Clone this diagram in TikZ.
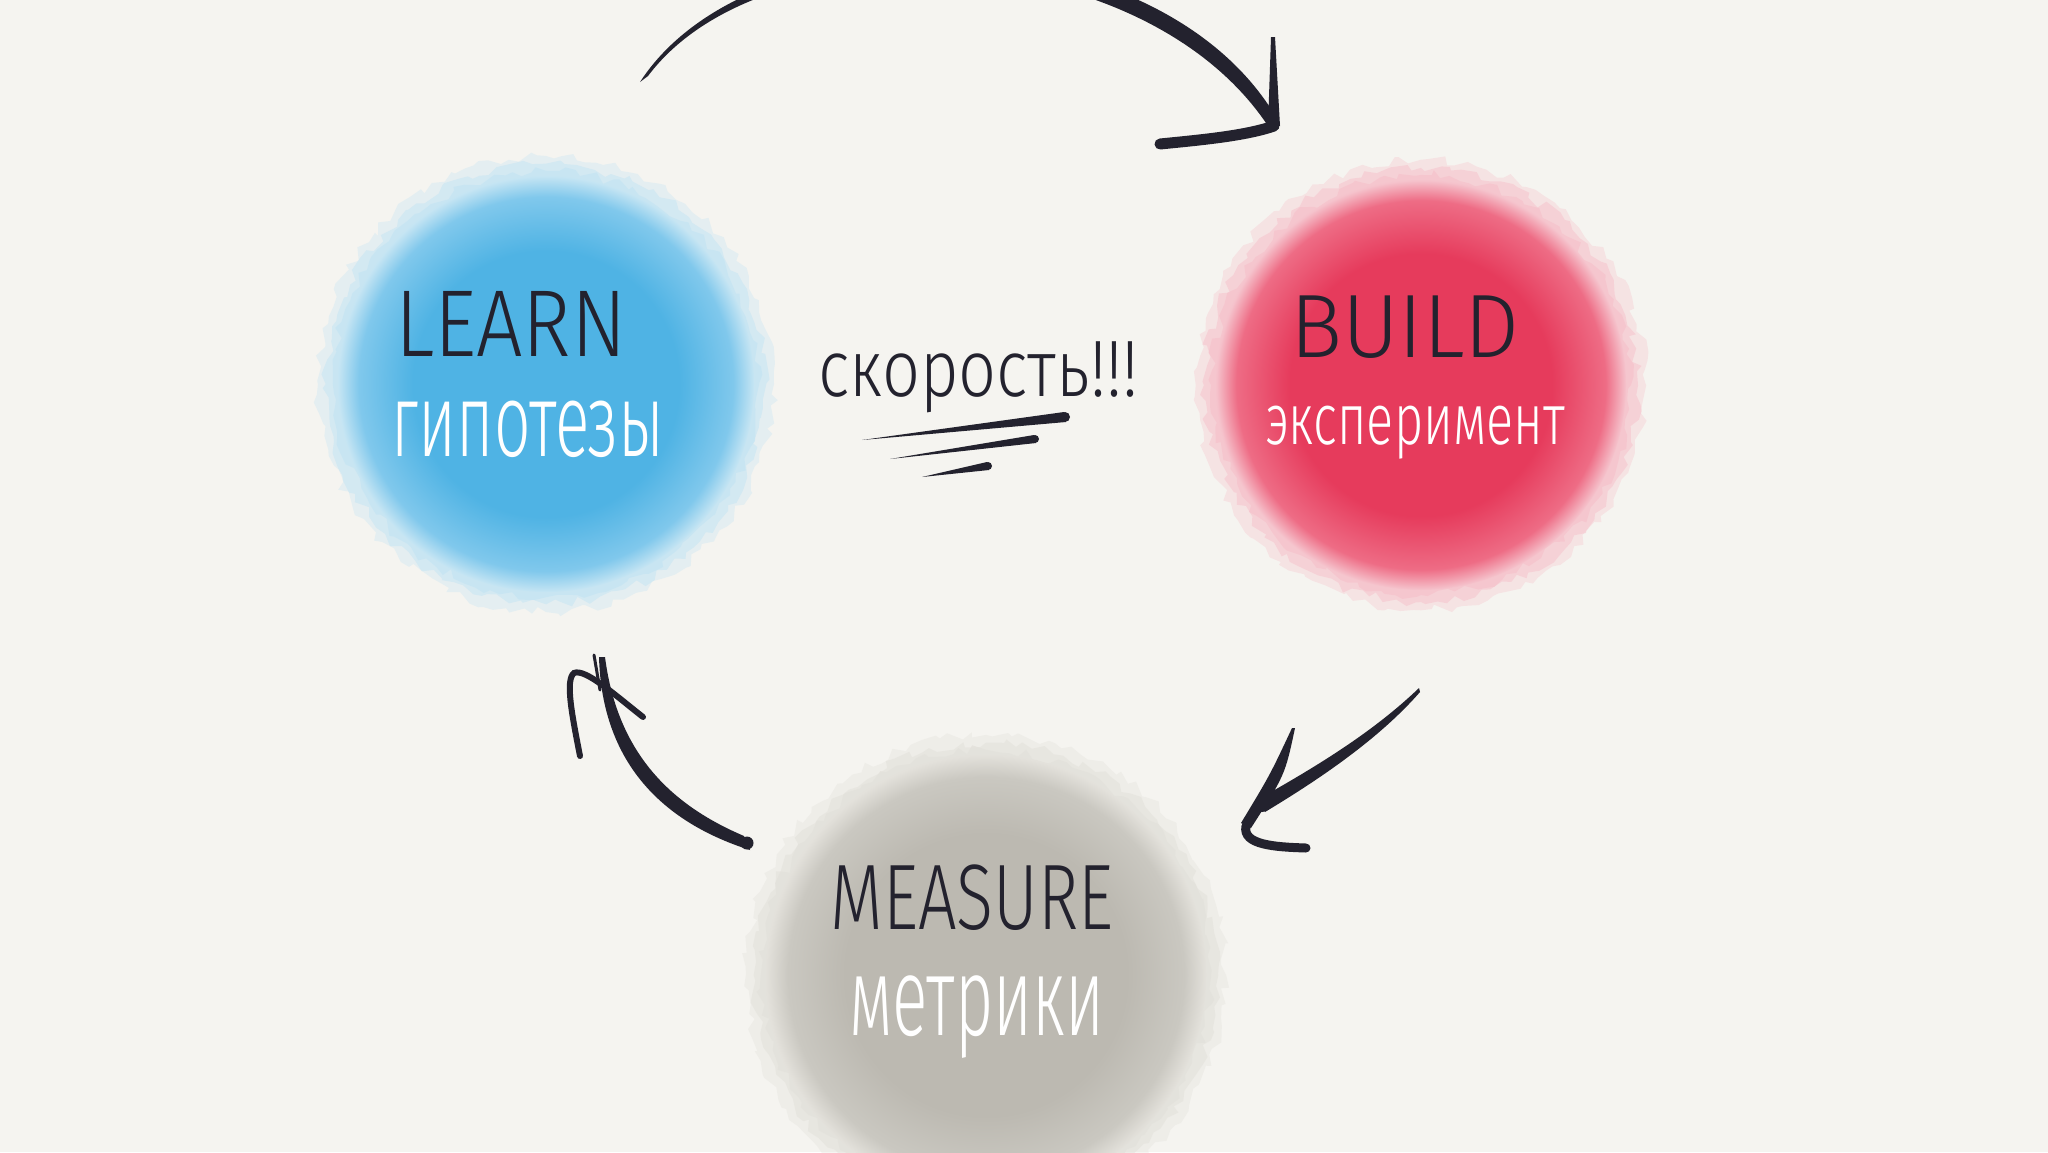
\documentclass[tikz,border=0pt]{standalone}
\usepackage{fontspec}
\newfontfamily\hand{Fira Sans Light}
\usetikzlibrary{decorations.pathmorphing}
\definecolor{bg}{HTML}{F5F4F0}
\definecolor{ink}{HTML}{23222E}
\definecolor{bcore}{HTML}{4FB3E4}
\definecolor{bmid}{HTML}{80C8EC}
\definecolor{bfringe}{HTML}{C6E5F3}
\definecolor{rcore}{HTML}{E63B5C}
\definecolor{rmid}{HTML}{EE6C85}
\definecolor{rfringe}{HTML}{F5C4CD}
\definecolor{gcore}{HTML}{BCB9B1}
\definecolor{gmid}{HTML}{CAC8C1}
\definecolor{gfringe}{HTML}{E3E1DB}
\pgfdeclareradialshading{bblob}{\pgfpoint{0bp}{0bp}}{color(0bp)=(bcore); color(16bp)=(bcore); color(22.5bp)=(bmid); color(25bp)=(bfringe); color(50bp)=(bfringe)}
\pgfdeclareradialshading{rblob}{\pgfpoint{0bp}{0bp}}{color(0bp)=(rcore); color(16bp)=(rcore); color(22.5bp)=(rmid); color(25bp)=(rfringe); color(50bp)=(rfringe)}
\pgfdeclareradialshading{gblob}{\pgfpoint{0bp}{0bp}}{color(0bp)=(gcore); color(16bp)=(gcore); color(22.5bp)=(gmid); color(25bp)=(gfringe); color(50bp)=(gfringe)}
\tikzset{
  rough/.style={decorate, decoration={random steps, segment length=9pt, amplitude=5pt}},
  blobnode/.style={circle, inner sep=0pt, minimum size=#1},
  darktext/.style={text=ink, inner sep=0pt, anchor=base},
  lighttext/.style={text=white, inner sep=0pt, anchor=base},
}
\newcommand\mywatercolor[4]{%
  \fill[#3, opacity=0.35, rough] #1 circle ({#2pt+4pt});
  \fill[#3, opacity=0.55, rough] #1 circle ({#2pt-4pt});
  \fill[#3, opacity=0.8, rough] #1 circle ({#2pt-11pt});
  \shade[shading=#4] #1 circle ({#2pt-16pt});
}
\newlength\handw
\newcommand\handtext[3]{%
  {\fontsize{#2pt}{#2pt}\hand
   \settowidth\handw{#3}%
   \pgfmathsetmacro\handst{#1/\handw}%
   \addfontfeature{FakeStretch=\handst}#3}%
}
\begin{document}
\begin{tikzpicture}[x=1pt,y=-1pt]
\useasboundingbox (0,0) rectangle (2048,1152);
\clip (0,0) rectangle (2048,1152);
\fill[bg] (0,0) rectangle (2048,1152);
\pgfmathsetseed{11}

% blobs
\mywatercolor{(546,384)}{224}{bfringe}{bblob}
\mywatercolor{(1421,385)}{221}{rfringe}{rblob}
\mywatercolor{(986,975)}{236}{gfringe}{gblob}
\node[blobnode=440pt] (learn) at (546,384) {};
\node[blobnode=440pt] (build) at (1421,385) {};
\node[blobnode=460pt] (measure) at (986,975) {};

% texts
\node[darktext] (learnT) at (511,356) {\handtext{232}{95}{LEARN}};
\node[lighttext] (learnS) at (528,456) {\handtext{273}{104}{гипотезы}};
\node[darktext] (buildT) at (1405,357) {\handtext{230}{90}{BUILD}};
\node[lighttext] (buildS) at (1415,444) {\handtext{300}{72}{эксперимент}};
\node[darktext] (measureT) at (972,929) {\handtext{283}{93}{MEASURE}};
\node[lighttext] (measureS) at (977,1035) {\handtext{255}{112}{метрики}};
\node[darktext] (speed) at (978,396) {\handtext{320}{80}{скорость!!!}};

% underline strokes
\fill[ink] (862,440) -- (1064,412) -- (1066,422) -- cycle;
\fill[ink] (1065,417) circle (5pt);
\fill[ink] (890,459) -- (1034,435) -- (1036,443) -- cycle;
\fill[ink] (1035,439) circle (4pt);
\fill[ink] (922,477) -- (987,462) -- (989,470) -- cycle;
\fill[ink] (988,466) circle (4pt);

% top arrow (learn -> build)
\coordinate (topstart) at (644,78);
\coordinate (toptip) at (1274,126);
\fill[ink] (640,82) .. controls (755,-95) and (1165,-85) .. (1280,124)
  -- (1270,129) .. controls (1145,-65) and (765,-80) .. (648,76) -- cycle;
\fill[ink] (toptip) circle (5pt);
\draw[ink, line width=11pt, line cap=round] (1160,144) .. controls (1200,140) and (1245,136) .. (toptip);
\fill[ink] (1271,37) -- (1275,37) -- (1280,126) -- (1268,126) -- cycle;

% right arrow (build -> measure)
\coordinate (rstart) at (1418,690);
\coordinate (rcorner) at (1246,826);
\fill[ink] (1419,688) .. controls (1370,735) and (1310,770) .. (1257,800)
  -- (1265,812) .. controls (1318,780) and (1378,740) .. (1420,692) -- cycle;
\fill[ink] (1262,806) circle (6pt);
\fill[ink] (1292,728) -- (1295,728) .. controls (1285,775) .. (1251,828) -- (1241,823) .. controls (1270,775) .. (1292,728) -- cycle;
\draw[ink, line width=9pt, line cap=round] (rcorner) .. controls (1242,845) and (1275,847) .. (1306,848);

% left arrow (measure -> learn)
\coordinate (lstart) at (747,843);
\coordinate (ltip) at (602,657);
\fill[ink] (750,850) .. controls (665,823) and (602,765) .. (599,657)
  -- (605,657) .. controls (618,758) and (676,807) .. (744,836) -- cycle;
\fill[ink] (747,843) circle (6.5pt);
\draw[ink, line width=6pt, line cap=round] (580,756) .. controls (572,715) and (565,680) .. (574,673) .. controls (585,668) and (615,695) .. (643,717);
\draw[ink, line width=3pt, line cap=round] (594,655) -- (600,690);
\end{tikzpicture}
\end{document}
